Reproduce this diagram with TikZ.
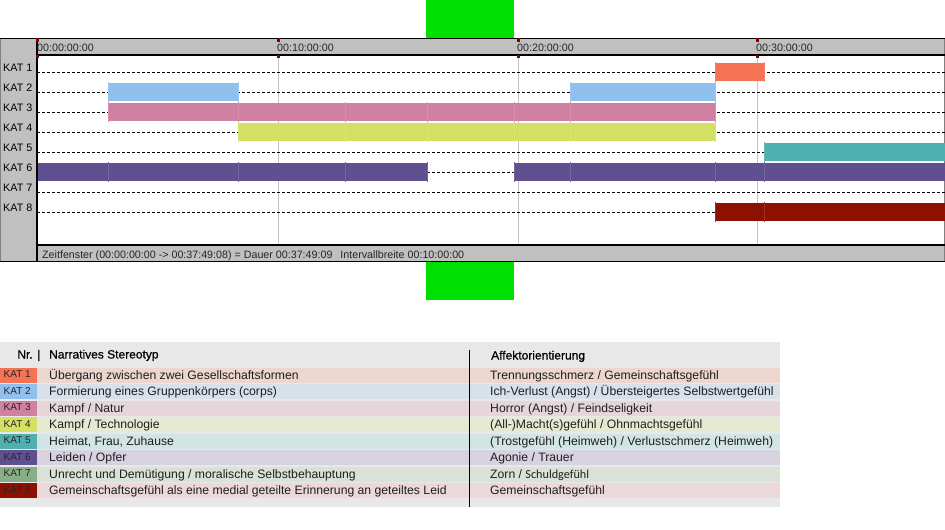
\documentclass[tikz,border=0pt]{standalone}
\usepackage{fontspec}
\setmainfont{Liberation Sans}
\newfontface\headfont[FakeBold=0.6]{Liberation Sans}
\newfontfamily\calfont{Carlito}
\usepackage{tikz}

\definecolor{markgreen}{HTML}{00E000}
\definecolor{panelgray}{HTML}{C0C0C0}
\definecolor{gridgray}{HTML}{C4C4C4}
\definecolor{tickred}{HTML}{800000}
\definecolor{tablegray}{HTML}{E8E8E8}
\definecolor{kat1}{HTML}{F37352}
\definecolor{kat2}{HTML}{90C0EE}
\definecolor{kat3}{HTML}{D080A0}
\definecolor{kat4}{HTML}{D4E064}
\definecolor{kat5}{HTML}{50B0B0}
\definecolor{kat6}{HTML}{605090}
\definecolor{kat7}{HTML}{88AE88}
\definecolor{kat8}{HTML}{8E1000}
\definecolor{katbg1}{HTML}{ECD6CE}
\definecolor{katbg2}{HTML}{D8E0EA}
\definecolor{katbg3}{HTML}{E6D6DA}
\definecolor{katbg4}{HTML}{E6E8D2}
\definecolor{katbg5}{HTML}{D2E4E4}
\definecolor{katbg6}{HTML}{D8D2E0}
\definecolor{katbg7}{HTML}{DAE2D8}
\definecolor{katbg8}{HTML}{EAD8DA}

\tikzstyle{rowlabel}=[anchor=base west, inner sep=0pt, font=\fontsize{10.8}{12}\selectfont]
\tikzstyle{timelabel}=[anchor=base west, inner sep=0pt, text=black!85, font=\fontsize{10.7}{12}\selectfont]
\tikzstyle{badge}=[anchor=base west, inner sep=0pt, text=black!85, font=\fontsize{10}{12}\selectfont]
\tikzstyle{cell}=[anchor=base west, inner sep=0pt, text=black!88, font=\fontsize{12.2}{14}\selectfont]
\tikzstyle{headcell}=[anchor=base west, inner sep=0pt, font=\fontsize{12}{14}\headfont]
\tikzstyle{rowline}=[black, dash pattern=on 3pt off 2pt, line width=0.8pt]
\tikzstyle{frameline}=[black, line width=1.2pt]

% bar in a row of the time line: row, from, to, colour
\newcommand{\katbar}[4]{\fill[#4] (#2,{52+20*#1-9}) rectangle (#3,{52+20*#1+9});}
% segment mark: row, x, colour
\newcommand{\kattick}[3]{\draw[#3!88!white, line width=0.6pt] (#2,{52+20*#1-10}) -- (#2,{52+20*#1+10});}

\begin{document}
\begin{tikzpicture}[x=1pt, y=-1pt]
\useasboundingbox (0,0) rectangle (945,530);

% green marks
\fill[markgreen] (426,0) rectangle (514,38);
\fill[markgreen] (426,262) rectangle (514,300);

% panel
\fill[panelgray] (0,38) rectangle (945,262);
\fill[white] (37,55) rectangle (945,245);
\draw[gray] (0.5,38) -- (0.5,262);
\draw[gray] (944.5,38) -- (944.5,262);
\foreach \x in {278,518,757}
    \draw[gridgray, line width=0.8pt] (\x,55) -- (\x,245);
\foreach \i in {1,...,8}
    \draw[rowline] (37,{52+20*\i}) -- (945,{52+20*\i});

% bars
\katbar{1}{715}{764}{kat1}
\katbar{2}{108}{238}{kat2}
\katbar{2}{570}{715}{kat2}
\katbar{3}{108}{715}{kat3}
\katbar{4}{238}{715}{kat4}
\katbar{5}{764}{945}{kat5}
\katbar{6}{37}{427}{kat6}
\katbar{6}{514}{945}{kat6}
\katbar{8}{715}{945}{kat8}
\foreach \x in {715,764} \kattick{1}{\x}{kat1};
\foreach \x in {108,238,570,715} \kattick{2}{\x}{kat2};
\foreach \x in {108,238,345,427,514,570,715} \kattick{3}{\x}{kat3};
\foreach \x in {238,345,427,514,570,715} \kattick{4}{\x}{kat4};
\kattick{5}{764}{kat5}
\foreach \x in {108,238,345,427,514,570,715,764} \kattick{6}{\x}{kat6};
\foreach \x in {715,764} \kattick{8}{\x}{kat8};

% frame lines
\draw[frameline] (0,38.6) -- (945,38.6);
\draw[frameline] (37,55) -- (945,55);
\draw[frameline] (37,245) -- (945,245);
\draw[frameline] (0,261.8) -- (945,261.8);
\draw[frameline] (37,38) -- (37,262);
\foreach \x in {37,278,518,757} {
    \fill[tickred] (\x-1.5,38) rectangle (\x+1.5,41.5);
    \fill[tickred] (\x-1.5,55) rectangle (\x+1.5,58);
}

% time axis
\node[timelabel] (t0) at (37,51) {00:00:00:00};
\node[timelabel] (t1) at (277,51) {00:10:00:00};
\node[timelabel] (t2) at (517,51) {00:20:00:00};
\node[timelabel] (t3) at (756,51) {00:30:00:00};
\foreach \i in {1,...,8}
    \node[rowlabel] (kat\i) at (3,{51.5+20*\i}) {KAT \i};
\node[timelabel] (window) at (42,258.5)
    {Zeitfenster (00:00:00:00 -> 00:37:49:08) = Dauer 00:37:49:09\hspace{8pt}Intervallbreite 00:10:00:00};

% legend table
\fill[tablegray] (0,342) rectangle (780,507);
\node[headcell, anchor=base east] (nr) at (40.5,358.5) {Nr. |};
\node[headcell] (ster) at (49,358.5) {Narratives Stereotyp};
\node[headcell] (affekt) at (491,359.5) {Affektorientierung};
\foreach \i/\s/\a in {
    1/{Übergang zwischen zwei Gesellschaftsformen}/{Trennungsschmerz / Gemeinschaftsgefühl},
    2/{Formierung eines Gruppenkörpers (corps)}/{Ich-Verlust (Angst) / Übersteigertes Selbstwertgefühl},
    3/{Kampf / Natur}/{Horror (Angst) / Feindseligkeit},
    4/{Kampf / Technologie}/{(All-)Macht(s)gefühl / Ohnmachtsgefühl},
    5/{Heimat, Frau, Zuhause}/{(Trostgefühl (Heimweh) / Verlustschmerz (Heimweh)},
    6/{Leiden / Opfer}/{Agonie / Trauer},
    7/{Unrecht und Demütigung / moralische Selbstbehauptung}/{Zorn / {\calfont Schuldgefühl}},
    8/{Gemeinschaftsgefühl als eine medial geteilte Erinnerung an geteiltes Leid}/{Gemeinschaftsgefühl}} {
    \fill[katbg\i] (37,{351+16.5*\i}) rectangle (780,{366+16.5*\i});
    \fill[kat\i] (0,{351+16.5*\i}) rectangle (37,{366+16.5*\i});
    \node[badge] (badge\i) at (3.5,{361+16.5*\i}) {KAT \i};
    \node[cell] (ster\i) at (49,{362.5+16.5*\i}) {\s};
    \node[cell] (affekt\i) at (490,{362.5+16.5*\i}) {\a};
}
\draw[black, line width=0.9pt] (469,350) -- (469,507);
\end{tikzpicture}
\end{document}
